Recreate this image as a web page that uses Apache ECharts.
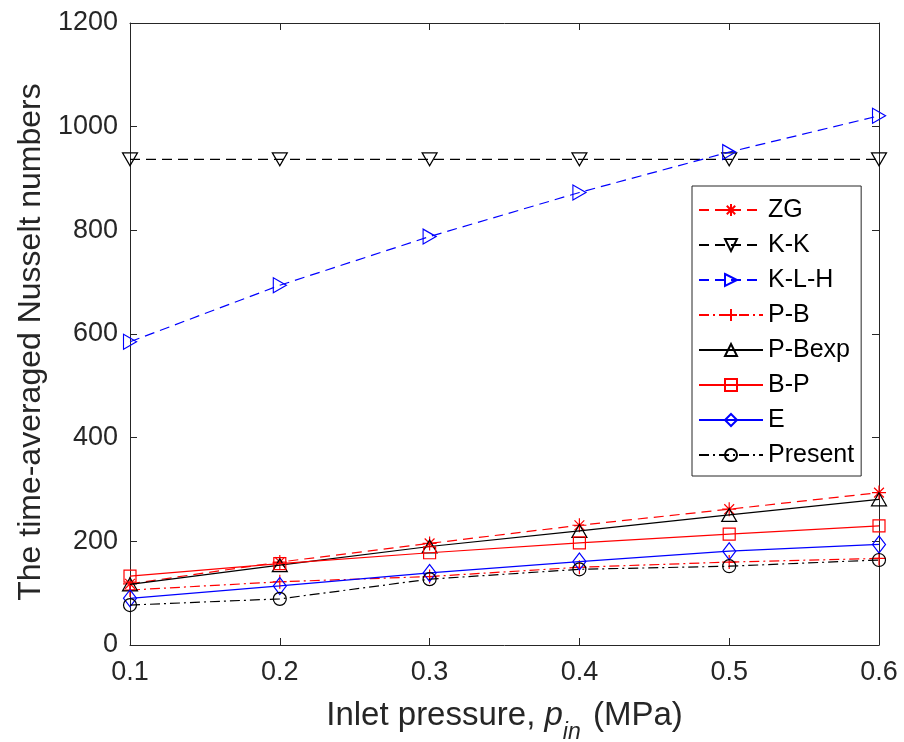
<!DOCTYPE html>
<html>
<head>
<meta charset="utf-8">
<script src="https://cdn.jsdelivr.net/npm/echarts@6/dist/echarts.min.js"></script>
<style>
html,body{margin:0;padding:0;background:#fff;}
#chart{width:904px;height:742px;}
</style>
</head>
<body>
<div id="chart"></div>
<script>
// ---- data ----
const pressures = [0.1, 0.2, 0.3, 0.4, 0.5, 0.6];
const seriesNames = ['ZG', 'K-K', 'K-L-H', 'P-B', 'P-Bexp', 'B-P', 'E', 'Present'];
const ZG      = [118, 160, 196, 231, 262, 294];
const KK      = [937, 937, 937, 937, 937, 937];
const KLH     = [585, 694, 788, 873, 951, 1021];
const PB      = [106, 122, 132, 150, 160, 167];
const PBexp   = [117, 154, 190, 220, 251, 281];
const BP      = [133, 157, 178, 197, 214, 230];
const E       = [90, 114, 139, 161, 181, 194];
const Present = [77, 89, 127, 146, 152, 164];
const yTicks = [0, 200, 400, 600, 800, 1000, 1200];

// ---- styles ----
const FONT = 'Liberation Sans, Arial, Helvetica, sans-serif';
const AX = '#262626';
const DASH = [10, 6];
const DASHDOT = [10, 4, 2, 4];
const SYM = {
  star: 'path://M5,0L5,10M0,5L10,5M1.5,1.5L8.5,8.5M1.5,8.5L8.5,1.5',
  down: 'path://M0,0L10,0L5,9Z',
  right: 'path://M0,0L9,5L0,10Z',
  plus: 'path://M5,0L5,10M0,5L10,5',
  up: 'path://M5,0L10,9L0,9Z',
  rect: 'path://M0,0L10,0L10,10L0,10Z',
  diamond: 'path://M5,0L10,7L5,14L0,7Z',
  circle: 'circle'
};
const defs = [
  {data: ZG,      color: '#ff0000', type: DASH,    sym: SYM.star,    size: [14, 14]},
  {data: KK,      color: '#000000', type: DASH,    sym: SYM.down,    size: [15, 13]},
  {data: KLH,     color: '#0000ff', type: DASH,    sym: SYM.right,   size: [13, 15]},
  {data: PB,      color: '#ff0000', type: DASHDOT, sym: SYM.plus,    size: [14, 14]},
  {data: PBexp,   color: '#000000', type: 'solid', sym: SYM.up,      size: [15, 13]},
  {data: BP,      color: '#ff0000', type: 'solid', sym: SYM.rect,    size: [12, 12]},
  {data: E,       color: '#0000ff', type: 'solid', sym: SYM.diamond, size: [13, 17]},
  {data: Present, color: '#000000', type: DASHDOT, sym: SYM.circle,  size: [13, 13]}
];

const series = defs.map((d, i) => ({
  name: seriesNames[i],
  type: 'line',
  xAxisIndex: 0,
  yAxisIndex: 0,
  data: pressures.map((p, k) => [p, d.data[k]]),
  symbol: d.sym,
  symbolSize: d.size,
  showAllSymbol: true,
  clip: false,
  lineStyle: {color: d.color, width: 1.2, type: d.type},
  itemStyle: {color: 'rgba(255,255,255,0)', borderColor: d.color, borderWidth: 1.2},
  emphasis: {disabled: true},
  z: 2 + i
}));

const chart = echarts.init(document.getElementById('chart'), null, {renderer: 'canvas'});
chart.setOption({
  animation: false,
  backgroundColor: '#ffffff',
  textStyle: {fontFamily: FONT},
  grid: {left: 130, right: 25, top: 23, bottom: 97, containLabel: false, outerBoundsMode: 'none'},
  legend: {
    orient: 'vertical',
    left: 692,
    top: 186,
    itemWidth: 64,
    itemHeight: 15,
    itemGap: 9,
    padding: [11, 7, 8, 6],
    borderColor: AX,
    borderWidth: 1,
    backgroundColor: '#ffffff',
    textStyle: {fontFamily: FONT, fontSize: 25, color: '#000', lineHeight: 26},
    data: seriesNames
  },
  xAxis: [{
    type: 'value',
    min: 0.1, max: 0.6, interval: 0.1,
    position: 'bottom',
    axisLine: {onZero: false, lineStyle: {color: AX, width: 1}},
    axisTick: {inside: true, length: 7, lineStyle: {color: AX}},
    axisLabel: {fontFamily: FONT, fontSize: 27, color: '#262626', margin: 14,
      formatter: v => v.toFixed(1)},
    splitLine: {show: false},
    name: '{a|Inlet pressure, }{i|p}{s|in}{a| (MPa)}',
    nameLocation: 'middle',
    nameGap: 54,
    nameTextStyle: {
      rich: {
        a: {fontFamily: FONT, fontSize: 33, color: '#262626', lineHeight: 35, verticalAlign: 'top'},
        i: {fontFamily: FONT, fontSize: 33, color: '#262626', fontStyle: 'italic', lineHeight: 35, verticalAlign: 'top'},
        s: {fontFamily: FONT, fontSize: 23, color: '#262626', fontStyle: 'italic', lineHeight: 24, padding: [22, 3, 0, 0], verticalAlign: 'top'}
      }
    }
  }, {
    type: 'value',
    min: 0.1, max: 0.6, interval: 0.1,
    position: 'top',
    axisLine: {onZero: false, lineStyle: {color: AX, width: 1}},
    axisTick: {inside: true, length: 7, lineStyle: {color: AX}},
    axisLabel: {show: false},
    splitLine: {show: false}
  }],
  yAxis: [{
    type: 'value',
    min: yTicks[0], max: yTicks[yTicks.length - 1], interval: 200,
    position: 'left',
    axisLine: {show: true, onZero: false, lineStyle: {color: AX, width: 1}},
    axisTick: {show: true, inside: true, length: 7, lineStyle: {color: AX}},
    axisLabel: {fontFamily: FONT, fontSize: 27, color: '#262626', margin: 12,
      formatter: v => String(v)},
    splitLine: {show: false},
    name: 'The time-averaged Nusselt numbers',
    nameLocation: 'middle',
    nameRotate: 90,
    nameGap: 80,
    nameTextStyle: {fontFamily: FONT, fontSize: 32, color: '#262626', padding: [0, 16, 0, 0]}
  }, {
    type: 'value',
    min: yTicks[0], max: yTicks[yTicks.length - 1], interval: 200,
    position: 'right',
    axisLine: {show: true, onZero: false, lineStyle: {color: AX, width: 1}},
    axisTick: {show: true, inside: true, length: 7, lineStyle: {color: AX}},
    axisLabel: {show: false},
    splitLine: {show: false}
  }],
  series: series
});
</script>
</body>
</html>
